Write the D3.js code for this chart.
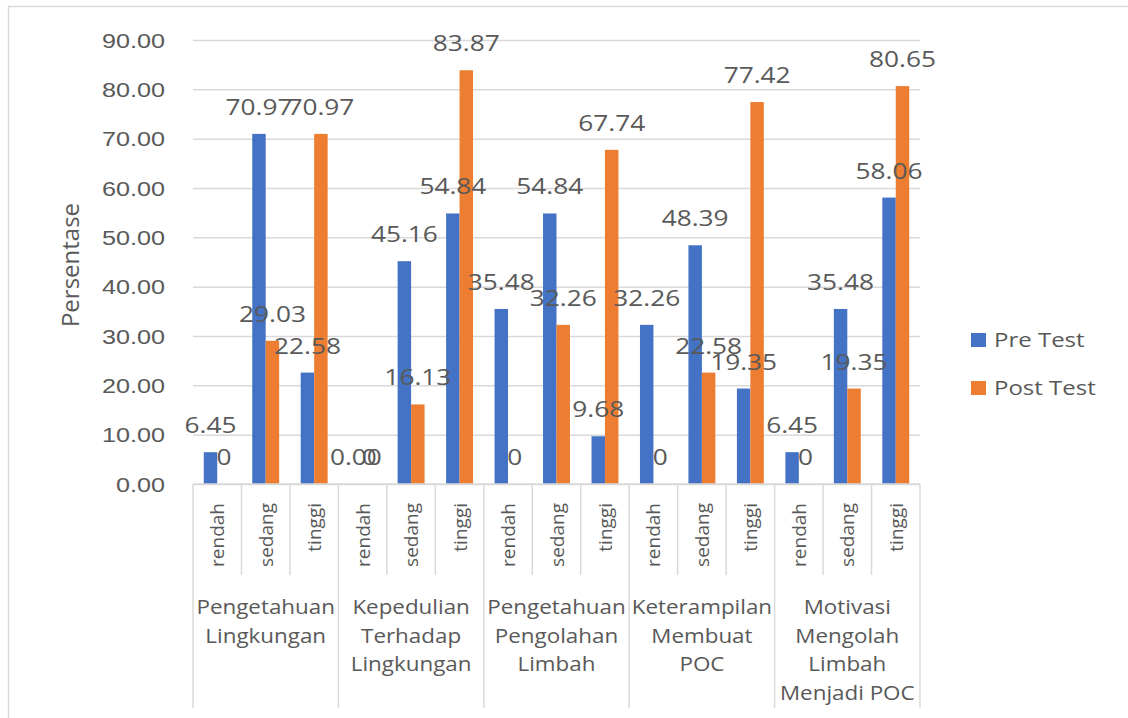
<!DOCTYPE html>
<html>
<head>
<meta charset="utf-8">
<script src="https://cdn.jsdelivr.net/npm/d3@7"></script>
<style>
  html, body { margin: 0; padding: 0; background: #fff; }
  svg { display: block; font-family: "Open Sans", "Noto Sans", sans-serif; }
</style>
</head>
<body>
<svg id="chart" width="1128" height="718"></svg>
<script>
// Grouped categories (each drawn on up to four lines) and their levels
const groupLines = [
  ["Pengetahuan", "Lingkungan"],
  ["Kepedulian", "Terhadap", "Lingkungan"],
  ["Pengetahuan", "Pengolahan", "Limbah"],
  ["Keterampilan", "Membuat", "POC"],
  ["Motivasi", "Mengolah", "Limbah", "Menjadi POC"]
];
const levels = ["rendah", "sedang", "tinggi"];

// Series values (percent), in group/level order
const preTest  = [6.45, 70.97, 22.58, 0.00, 45.16, 54.84, 35.48, 54.84, 9.68, 32.26, 48.39, 19.35, 6.45, 35.48, 58.06];
const postTest = [0, 29.03, 70.97, 0, 16.13, 83.87, 0, 32.26, 67.74, 0, 22.58, 77.42, 0, 19.35, 80.65];

const seriesNames = ["Pre Test", "Post Test"];
const seriesColors = ["#4472C4", "#ED7D31"];
const yTicks = [0, 10, 20, 30, 40, 50, 60, 70, 80, 90];
const yTitle = "Persentase";

const svg = d3.select("#chart");
const textColor = "#595959";
const gridColor = "#d9d9d9";

const plot = { left: 193, right: 920, top: 40, bottom: 484 };

// Outer frame of the chart area
svg.append("path")
  .attr("d", "M8.5,718 V6.5 H1128")
  .attr("fill", "none").attr("stroke", gridColor).attr("stroke-width", 1.5);

// Flat list of categories
const cats = [];
groupLines.forEach((g, gi) => levels.forEach((lv, li) => cats.push({ gi, li, level: lv, idx: gi * levels.length + li })));

const x = d3.scaleBand().domain(cats.map(c => c.idx)).range([plot.left, plot.right]).paddingInner(0).paddingOuter(0);
const xs = d3.scaleBand().domain(seriesNames).range([0, x.bandwidth()]).paddingInner(0).paddingOuter(0.8);
const y = d3.scaleLinear().domain([0, 90]).range([plot.bottom, plot.top]);

// Helper: horizontally stretched text
function stretchedText(sel, tx, ty, sx, str, size, anchor) {
  return sel.append("text")
    .attr("transform", `translate(${tx},${ty}) scale(${sx},1)`)
    .attr("text-anchor", anchor)
    .attr("font-size", size)
    .attr("fill", textColor)
    .text(str);
}

// Gridlines and y tick labels via the axis generator
const yAxis = d3.axisLeft(y).tickValues(yTicks).tickSize(-(plot.right - plot.left)).tickFormat("");
const yg = svg.append("g").attr("transform", `translate(${plot.left},0)`).call(yAxis);
yg.select(".domain").remove();
yg.selectAll(".tick line").attr("stroke", gridColor).attr("stroke-width", 1.5);
yg.selectAll(".tick").each(function(d) {
  stretchedText(d3.select(this), -28, 7, 1.2, d3.format(".2f")(d), 21, "end");
});

// Y axis title
svg.append("text")
  .attr("transform", `translate(79,265) rotate(-90)`)
  .attr("text-anchor", "middle")
  .attr("font-size", 24)
  .attr("fill", textColor)
  .text(yTitle);

// Bars
const seriesData = [preTest, postTest];
seriesNames.forEach((name, si) => {
  svg.append("g").selectAll("rect")
    .data(cats)
    .join("rect")
    .attr("x", c => x(c.idx) + xs(name))
    .attr("width", xs.bandwidth())
    .attr("y", c => y(seriesData[si][c.idx]))
    .attr("height", c => y(0) - y(seriesData[si][c.idx]))
    .attr("fill", seriesColors[si]);
});

// Baseline of the category axis
svg.append("line")
  .attr("x1", plot.left).attr("x2", plot.right)
  .attr("y1", plot.bottom).attr("y2", plot.bottom)
  .attr("stroke", gridColor).attr("stroke-width", 1.5);

// Data labels (on top of every bar)
const fmtPre = v => v.toFixed(2);
const fmtPost = v => (v === 0 ? "0" : v.toFixed(2));
const fmts = [fmtPre, fmtPost];
const labelLayer = svg.append("g");
seriesNames.forEach((name, si) => {
  cats.forEach(c => {
    const v = seriesData[si][c.idx];
    const cx = x(c.idx) + xs(name) + xs.bandwidth() / 2;
    stretchedText(labelLayer, cx, y(v) - 19, 1.25, fmts[si](v), 21, "middle");
  });
});

// Category axis: level separators and labels
const axisG = svg.append("g");
const levelBottom = 575, groupBottom = 708;
cats.forEach(c => {
  const x0 = x(c.idx);
  const isGroupStart = c.li === 0;
  axisG.append("line")
    .attr("x1", x0).attr("x2", x0)
    .attr("y1", plot.bottom).attr("y2", isGroupStart ? groupBottom : levelBottom)
    .attr("stroke", gridColor).attr("stroke-width", 1.5);
  axisG.append("text")
    .attr("transform", `translate(${x0 + x.bandwidth() / 2 + 7},503) rotate(-90)`)
    .attr("text-anchor", "end")
    .attr("font-size", 19)
    .attr("fill", textColor)
    .text(c.level);
});
axisG.append("line")
  .attr("x1", plot.right).attr("x2", plot.right)
  .attr("y1", plot.bottom).attr("y2", groupBottom)
  .attr("stroke", gridColor).attr("stroke-width", 1.5);

// Group labels
groupLines.forEach((lines, gi) => {
  const gx0 = x(gi * levels.length);
  const gx1 = x(gi * levels.length + levels.length - 1) + x.bandwidth();
  const cx = (gx0 + gx1) / 2;
  lines.forEach((ln, k) => {
    stretchedText(axisG, cx, 614 + k * 28.5, 1.12, ln, 20, "middle");
  });
});

// Legend
const legend = svg.append("g");
const legendY = [340, 388];
seriesNames.forEach((name, si) => {
  legend.append("rect")
    .attr("x", 971).attr("y", legendY[si] - 7)
    .attr("width", 15).attr("height", 14)
    .attr("fill", seriesColors[si]);
  stretchedText(legend, 994, legendY[si] + 7, 1.2, name, 20, "start");
});
</script>
</body>
</html>
